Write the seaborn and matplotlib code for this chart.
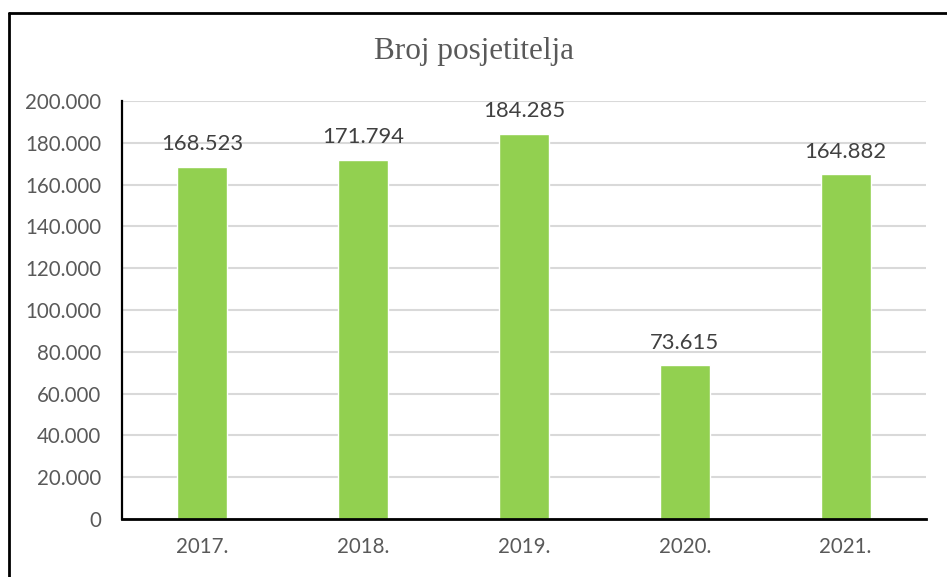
import pandas as pd
import matplotlib.pyplot as plt
import seaborn as sns
from matplotlib.lines import Line2D
from matplotlib.ticker import FuncFormatter

# Data
years = ["2017.", "2018.", "2019.", "2020.", "2021."]
visitors = [168523, 171794, 184285, 73615, 164882]

df = pd.DataFrame({"godina": years, "posjetitelji": visitors})

sns.set_style("white")
plt.rcParams['font.family'] = ['Lato', 'DejaVu Sans']

fig = plt.figure(figsize=(9.47, 5.77), dpi=100)
ax = fig.add_axes([122 / 947, 1 - 519 / 577, (926 - 122) / 947, (519 - 101) / 577])

sns.barplot(data=df, x="godina", y="posjetitelji", color="#92D050",
            width=0.31, saturation=1, ax=ax)

def dot_fmt(v, pos=None):
    return f"{int(round(v)):,}".replace(",", ".")

ax.set_ylim(0, 200000)
ax.set_yticks(range(0, 200001, 20000))
ax.yaxis.set_major_formatter(FuncFormatter(dot_fmt))
ax.set_xlim(-0.5, 4.5)

ax.grid(axis="y", color="#d9d9d9", linewidth=1.5)
ax.set_axisbelow(True)
for s in ["top", "right"]:
    ax.spines[s].set_visible(False)
ax.spines["left"].set_color("black")
ax.spines["left"].set_linewidth(1.6)
ax.spines["bottom"].set_color("black")
ax.spines["bottom"].set_linewidth(2)

ax.tick_params(axis="y", length=0, pad=15, labelsize=14.8, labelcolor="#595959")
ax.tick_params(axis="x", length=0, pad=13, labelsize=14.8, labelcolor="#595959")
ax.set_xlabel("")
ax.set_ylabel("")

ax.bar_label(ax.containers[0], labels=[dot_fmt(v) for v in visitors],
             padding=9, fontsize=15.8, color="#404040")

fig.text(0.5, 1 - 51 / 577, "Broj posjetitelja", ha="center", va="center",
         fontsize=22.5, color="#595959", family="Liberation Serif")

# frame around the chart (top and left edges visible)
fig.add_artist(Line2D([9 / 947, 1], [1 - 13 / 577, 1 - 13 / 577],
                      transform=fig.transFigure, color="black", linewidth=2))
fig.add_artist(Line2D([9 / 947, 9 / 947], [0, 1 - 13 / 577],
                      transform=fig.transFigure, color="black", linewidth=2))

fig.savefig("out.png", dpi=100)
